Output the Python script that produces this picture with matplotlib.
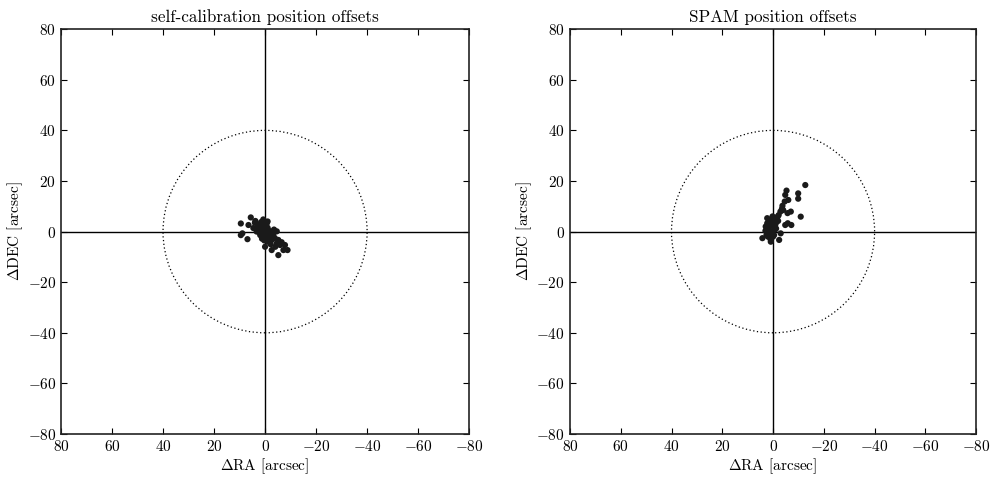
import numpy as np
import matplotlib
matplotlib.use('Agg')
import matplotlib.pyplot as plt
from matplotlib.patches import Circle

#______________________________ data ______________________________

# self-calibration offsets [arcsec]
ra_sc = [5.6, 9.5, 8.9, 9.5, 6.9, 6.5, 4.0, 1.3, 0.7, -0.8, -3.3, -4.6, 0.0, -2.6, -5.2,
         -5.9, -7.8, -8.8, -7.2, -4.6, -2.6, -5.2, 2.6, 1.9, 3.3, 4.6, 0.5, 1.0, 2.0, -1.0,
         -1.5, -0.3, 0.2, 1.5, -2.0, -3.0, -1.2, 0.8, 2.8, 3.8, -0.5, -1.8, -3.8, -2.2, 0.3,
         1.2, -0.7, -4.0, -6.5, -3.5, 2.2, 3.0, -1.0, 0.0, 1.8, 0.6, -0.2, 2.4, -2.8, -1.6]
dec_sc = [5.6, 3.2, -0.7, -1.4, -3.0, 2.6, 3.5, 1.3, 4.8, -1.0, -0.7, 0.1, -6.0, -7.3, -9.3,
          -5.3, -5.3, -7.3, -7.3, -4.6, -3.3, -3.3, 2.6, -1.4, 0.0, 1.4, 2.0, 0.5, 3.0, 1.5,
          -0.5, 0.8, -2.0, 3.8, -2.0, -1.8, -4.0, -0.8, 1.0, 4.2, 2.8, 0.2, -2.5, -5.0, -3.5,
          -2.8, 3.5, -6.0, -4.2, 0.8, -0.3, 1.8, 4.0, 2.5, 0.2, -1.2, 1.2, 1.6, -1.0, -2.6]

# SPAM offsets [arcsec]
ra_sp = [-12.7, -9.9, -9.9, -10.9, -5.3, -4.8, -4.6, -3.7, -7.0, -5.7, -2.9, -1.8, -5.8, -7.2,
         -4.8, 0.3, 2.3, 1.7, 1.0, 4.2, 0.9, -2.4, -3.0, -0.4, 2.6, 2.3, 2.9, 0.5, 1.5, 2.0,
         -0.5, -1.0, 0.0, 1.2, 2.5, -1.5, -2.2, -3.5, 0.8, 1.8, -0.8, 3.0, -6.0, -4.0, -2.0,
         0.2, 1.0, -0.2, 2.0, -1.2, 0.5, 1.4, -0.6]
dec_sp = [18.4, 15.1, 13.0, 5.9, 16.2, 14.5, 11.9, 10.2, 7.9, 7.3, 7.9, 5.9, 3.3, 2.6, 2.6,
          4.5, 3.3, 1.3, 0.0, -2.6, -4.0, -3.3, -0.7, -1.4, -1.4, 5.3, 2.0, 2.5, 0.5, -0.5,
          1.8, 3.0, -2.0, 4.0, 1.0, 5.0, 6.5, 9.0, -1.0, 3.8, 0.8, 0.3, 12.5, 8.5, 4.2,
          6.0, -3.0, 2.2, -2.0, 1.2, -0.2, 2.8, 3.6]

titles = ['self-calibration position offsets', 'SPAM position offsets']
circle_radius = 40
ticks = [-80, -60, -40, -20, 0, 20, 40, 60, 80]

#______________________________ style ______________________________

plt.rcParams['font.family'] = 'serif'
plt.rcParams['font.serif'] = ['cmr10', 'DejaVu Serif']
plt.rcParams['mathtext.fontset'] = 'cm'
plt.rcParams['axes.formatter.use_mathtext'] = True
plt.rcParams['axes.unicode_minus'] = True

fig = plt.figure(figsize=(9.98, 4.78), dpi=100)
ax1 = fig.add_axes([0.0611, 0.092, 0.409, 0.847])
ax2 = fig.add_axes([0.5711, 0.092, 0.407, 0.847])

for ax, ra, dec, title in [(ax1, ra_sc, dec_sc, titles[0]), (ax2, ra_sp, dec_sp, titles[1])]:
    ax.axhline(0, color='black', lw=1.0, zorder=1)
    ax.axvline(0, color='black', lw=1.0, zorder=1)
    ax.add_patch(Circle((0, 0), circle_radius, fill=False, ls=(0, (1, 2)), lw=0.9, color='black'))
    ax.scatter(ra, dec, s=20, color='#1a1a1a', edgecolors='none', zorder=3)
    ax.set_xlim(80, -80)
    ax.set_ylim(-80, 80)
    ax.set_xticks(ticks)
    ax.set_yticks(ticks)
    ax.tick_params(direction='in', top=True, right=True, length=4, width=0.8, labelsize=11)
    for s in ax.spines.values():
        s.set_linewidth(1.2)
        s.set_color('#222222')
    ax.set_xlabel(r'$\Delta$RA [arcsec]', fontsize=11, labelpad=2)
    ax.set_ylabel(r'$\Delta$DEC [arcsec]', fontsize=11, labelpad=2)
    ax.set_title(title, fontsize=12.3, pad=5)

fig.savefig('out.png', dpi=100)
